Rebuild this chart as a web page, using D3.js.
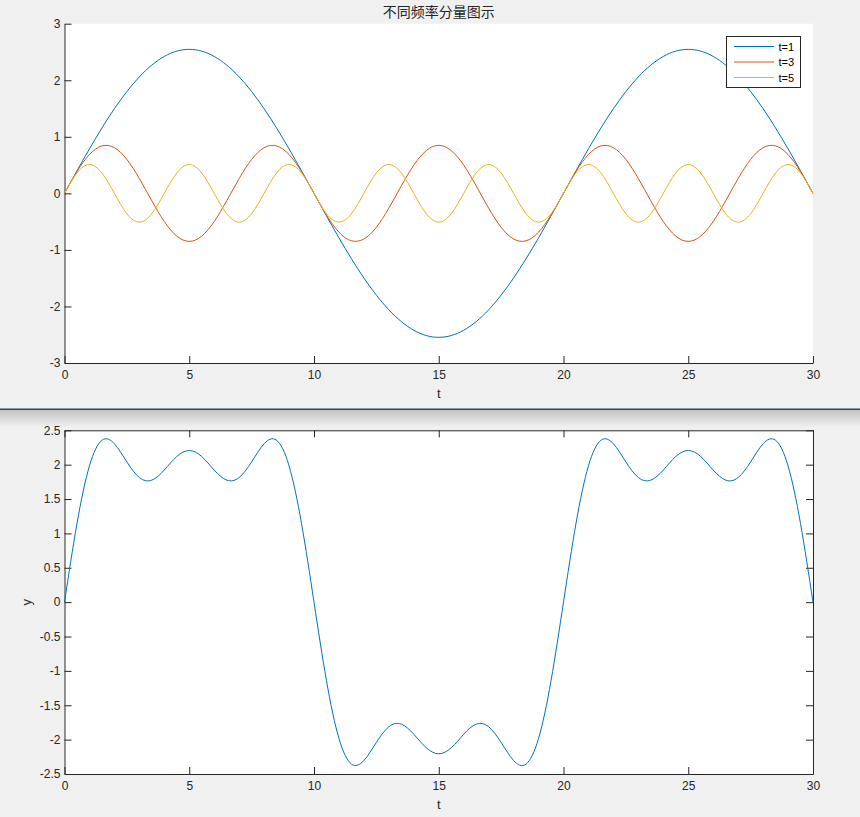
<!DOCTYPE html>
<html lang="zh">
  <head>
    <meta charset="UTF-8" />
    <title>不同频率分量图示</title>
    <style>
      body {
        margin: 0;
        background: #f0f0f0;
      }
      svg {
        display: block;
      }
      .tick text {
        font: 12px "Liberation Sans", Arial, sans-serif;
        fill: #262626;
      }
      .tick line,
      .domain {
        stroke: #262626;
      }
      .lbl {
        font: 13px "Liberation Sans", Arial, sans-serif;
        fill: #262626;
      }
    </style>
  </head>
  <body>
    <svg width="860" height="817"></svg>
    <script src="https://d3js.org/d3.v7.min.js"></script>
    <script>
      // t 采样点
      const tValues = [
        0, 0.5, 1, 1.5, 2, 2.5, 3, 3.5, 4, 4.5, 5, 5.5, 6, 6.5, 7, 7.5, 8, 8.5, 9, 9.5,
        10, 10.5, 11, 11.5, 12, 12.5, 13, 13.5, 14, 14.5, 15, 15.5, 16, 16.5, 17, 17.5, 18, 18.5, 19, 19.5,
        20, 20.5, 21, 21.5, 22, 22.5, 23, 23.5, 24, 24.5, 25, 25.5, 26, 26.5, 27, 27.5, 28, 28.5, 29, 29.5, 30
      ];
      // 各分量
      const y1Values = [
        0, 0.398, 0.787, 1.156, 1.497, 1.8, 2.06, 2.268, 2.421, 2.515, 2.546, 2.515, 2.421, 2.268, 2.06, 1.8, 1.497, 1.156, 0.787, 0.398,
        0, -0.398, -0.787, -1.156, -1.497, -1.8, -2.06, -2.268, -2.421, -2.515, -2.546, -2.515, -2.421, -2.268, -2.06, -1.8, -1.497, -1.156, -0.787, -0.398,
        0, 0.398, 0.787, 1.156, 1.497, 1.8, 2.06, 2.268, 2.421, 2.515, 2.546, 2.515, 2.421, 2.268, 2.06, 1.8, 1.497, 1.156, 0.787, 0.398, 0
      ];
      const y3Values = [
        0, 0.385, 0.687, 0.839, 0.807, 0.6, 0.262, -0.133, -0.499, -0.756, -0.849, -0.756, -0.499, -0.133, 0.262, 0.6, 0.807, 0.839, 0.687, 0.385,
        0, -0.385, -0.687, -0.839, -0.807, -0.6, -0.262, 0.133, 0.499, 0.756, 0.849, 0.756, 0.499, 0.133, -0.262, -0.6, -0.807, -0.839, -0.687, -0.385,
        0, 0.385, 0.687, 0.839, 0.807, 0.6, 0.262, -0.133, -0.499, -0.756, -0.849, -0.756, -0.499, -0.133, 0.262, 0.6, 0.807, 0.839, 0.687, 0.385, 0
      ];
      const y5Values = [
        0, 0.36, 0.509, 0.36, 0, -0.36, -0.509, -0.36, 0, 0.36, 0.509, 0.36, 0, -0.36, -0.509, -0.36, 0, 0.36, 0.509, 0.36,
        0, -0.36, -0.509, -0.36, 0, 0.36, 0.509, 0.36, 0, -0.36, -0.509, -0.36, 0, 0.36, 0.509, 0.36, 0, -0.36, -0.509, -0.36,
        0, 0.36, 0.509, 0.36, 0, -0.36, -0.509, -0.36, 0, 0.36, 0.509, 0.36, 0, -0.36, -0.509, -0.36, 0, 0.36, 0.509, 0.36, 0
      ];
      // 合成信号
      const ySumValues = [
        0, 1.143, 1.983, 2.355, 2.304, 2.04, 1.813, 1.775, 1.922, 2.119, 2.206, 2.119, 1.922, 1.775, 1.813, 2.04, 2.304, 2.355, 1.983, 1.143,
        0, -1.143, -1.983, -2.355, -2.304, -2.04, -1.813, -1.775, -1.922, -2.119, -2.206, -2.119, -1.922, -1.775, -1.813, -2.04, -2.304, -2.355, -1.983, -1.143,
        0, 1.143, 1.983, 2.355, 2.304, 2.04, 1.813, 1.775, 1.922, 2.119, 2.206, 2.119, 1.922, 1.775, 1.813, 2.04, 2.304, 2.355, 1.983, 1.143, 0
      ];
      const seriesNames = ["t=1", "t=3", "t=5"];
      const seriesColors = ["#0072BD", "#D95319", "#EDB120"];
      const xTicks = [0, 5, 10, 15, 20, 25, 30];
      const yTicksTop = [-3, -2, -1, 0, 1, 2, 3];
      const yTicksBottom = [-2.5, -2, -1.5, -1, -0.5, 0, 0.5, 1, 1.5, 2, 2.5];

      const svg = d3.select("svg");
      const left = 64.5, right = 813;

      // 分隔条 (两张图拼接处)
      const defs = svg.append("defs");
      const grad = defs.append("linearGradient")
        .attr("id", "shade").attr("x1", 0).attr("y1", 0).attr("x2", 0).attr("y2", 1);
      grad.append("stop").attr("offset", "0%").attr("stop-color", "#c2c2c2");
      grad.append("stop").attr("offset", "100%").attr("stop-color", "#f0f0f0");
      svg.append("rect").attr("x", 0).attr("y", 410).attr("width", 860).attr("height", 17)
        .attr("fill", "url(#shade)");
      svg.append("rect").attr("x", 0).attr("y", 408.5).attr("width", 860).attr("height", 1.5)
        .attr("fill", "#1d4a6c");

      const x = d3.scaleLinear().domain([0, 30]).range([left, right]);
      // MATLAB 风格: 普通连字符作负号
      const fmt = (d) => String(d);

      function drawAxes(top, bottom, yDomain, yTicks, box) {
        const y = d3.scaleLinear().domain(yDomain).range([bottom, top]);
        svg.append("rect")
          .attr("x", left).attr("y", top)
          .attr("width", right - left).attr("height", bottom - top)
          .attr("fill", "#fff");
        svg.append("g")
          .attr("transform", "translate(0," + bottom + ")")
          .call(d3.axisBottom(x).tickValues(xTicks).tickSizeInner(-7).tickSizeOuter(0).tickPadding(7).tickFormat(fmt))
          .call((g) => g.selectAll("text").attr("dy", "0.71em"));
        svg.append("g")
          .attr("transform", "translate(" + left + ",0)")
          .call(d3.axisLeft(y).tickValues(yTicks).tickSizeInner(-7).tickSizeOuter(0).tickPadding(4).tickFormat(fmt));
        if (box) {
          svg.append("g")
            .attr("transform", "translate(0," + top + ")")
            .call(d3.axisTop(x).tickValues(xTicks).tickSizeInner(-7).tickSizeOuter(0).tickFormat(""));
          svg.append("g")
            .attr("transform", "translate(" + right + ",0)")
            .call(d3.axisRight(y).tickValues(yTicks).tickSizeInner(-7).tickSizeOuter(0).tickFormat(""));
        }
        svg.selectAll(".domain").attr("stroke-width", 1);
        return y;
      }

      // 上图: 各频率分量
      const yTop = drawAxes(23.7, 363, [-3, 3], yTicksTop, false);
      const lineTop = d3.line()
        .x((d, i) => x(tValues[i]))
        .y((d) => yTop(d))
        .curve(d3.curveNatural);
      [y1Values, y3Values, y5Values].forEach((vals, i) => {
        svg.append("path")
          .datum(vals)
          .attr("fill", "none")
          .attr("stroke", seriesColors[i])
          .attr("stroke-width", 1)
          .attr("d", lineTop);
      });

      svg.append("text").attr("class", "lbl")
        .attr("x", (left + right) / 2).attr("y", 17)
        .attr("text-anchor", "middle")
        .style("font-family", "'Noto Sans CJK SC', sans-serif")
        .style("font-size", "14px")
        .text("不同频率分量图示");
      svg.append("text").attr("class", "lbl")
        .attr("x", (left + right) / 2).attr("y", 398)
        .attr("text-anchor", "middle").text("t");

      // 图例
      const legend = svg.append("g").attr("transform", "translate(726.5,36.5)");
      legend.append("rect").attr("width", 74).attr("height", 51)
        .attr("fill", "#fff").attr("stroke", "#262626").attr("stroke-width", 1);
      seriesNames.forEach((name, i) => {
        const yy = 10 + i * 15.5;
        legend.append("line")
          .attr("x1", 7.5).attr("x2", 47.5).attr("y1", yy).attr("y2", yy)
          .attr("stroke", seriesColors[i]).attr("stroke-width", 1);
        legend.append("text")
          .attr("x", 52).attr("y", yy + 4)
          .style("font", "11px 'Liberation Sans', Arial, sans-serif")
          .attr("fill", "#000")
          .text(name);
      });

      // 下图: 合成
      const yBot = drawAxes(430.3, 774, [-2.5, 2.5], yTicksBottom, true);
      const lineBot = d3.line()
        .x((d, i) => x(tValues[i]))
        .y((d) => yBot(d))
        .curve(d3.curveNatural);
      svg.append("path")
        .datum(ySumValues)
        .attr("fill", "none")
        .attr("stroke", seriesColors[0])
        .attr("stroke-width", 1)
        .attr("d", lineBot);

      svg.append("text").attr("class", "lbl")
        .attr("x", (left + right) / 2).attr("y", 809)
        .attr("text-anchor", "middle").text("t");
      svg.append("text").attr("class", "lbl")
        .attr("transform", "translate(31," + (430.3 + 774) / 2 + ") rotate(-90)")
        .attr("text-anchor", "middle").text("y");
    </script>
  </body>
</html>
